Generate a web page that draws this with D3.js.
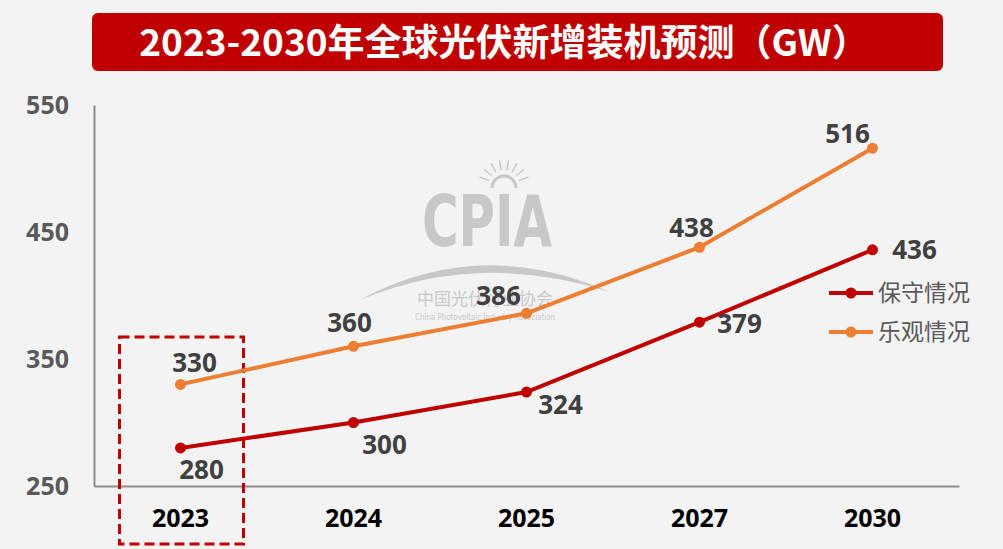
<!DOCTYPE html>
<html>
<head>
<meta charset="utf-8">
<script src="https://cdn.jsdelivr.net/npm/d3@7"></script>
<style>
  html, body { margin: 0; padding: 0; background: #f3f3f3; }
  svg { display: block; }
</style>
</head>
<body>
<div id="chart"></div>
<script>
// 2023-2030 global PV new installations forecast (GW)
const years = ['2023', '2024', '2025', '2027', '2030'];
const conservative = [280, 300, 324, 379, 436];
const optimistic = [330, 360, 386, 438, 516];
const yTicks = [250, 350, 450, 550];
const seriesNames = ['保守情况', '乐观情况'];

// label offsets from each point (styling only)
const consOffsets = [[21, 31], [31, 31], [34, 22], [40, 11], [42, 9]];
const optOffsets = [[14, -12], [-4, -14], [-28, -8], [-8, -10], [-25, -5]];

const width = 1003;
const height = 549;
const margin = { top: 105, right: 44, bottom: 63, left: 94 };
const red = '#c00000';
const orange = '#ed7d31';
const numFont = '"Open Sans", "Noto Sans", sans-serif';
const cjkFont = '"Noto Sans CJK SC", sans-serif';

const svg = d3.select('#chart')
  .append('svg')
  .attr('width', width)
  .attr('height', height);

svg.append('rect')
  .attr('width', width).attr('height', height)
  .attr('fill', '#f3f3f3');

const x = d3.scaleBand()
  .domain(years)
  .range([margin.left, width - margin.right]);

const y = d3.scaleLinear()
  .domain([250, 550])
  .range([height - margin.bottom, margin.top]);

const cx = d => x(d) + x.bandwidth() / 2;

// title bar
svg.append('rect')
  .attr('x', 92).attr('y', 13)
  .attr('width', 851).attr('height', 58)
  .attr('rx', 6)
  .attr('fill', red);

svg.append('text')
  .attr('x', 504).attr('y', 56)
  .attr('text-anchor', 'middle')
  .attr('fill', '#fff')
  .style('font-family', cjkFont)
  .style('font-weight', 700)
  .style('font-size', '37px')
  .text('2023-2030年全球光伏新增装机预测（GW）');

// watermark
const wm = svg.append('g').attr('opacity', 0.55).attr('fill', '#a6a6a6');
wm.append('text')
  .attr('x', 487).attr('y', 246)
  .attr('text-anchor', 'middle')
  .attr('textLength', 130)
  .attr('lengthAdjust', 'spacingAndGlyphs')
  .style('font-family', '"DejaVu Sans Condensed", sans-serif')
  .style('font-weight', 700)
  .style('font-size', '72px')
  .text('CPIA');
wm.append('path')
  .attr('d', 'M360,300 Q480,235 610,292 Q480,250 360,300 Z')
  .attr('fill', '#a6a6a6');
wm.append('path')
  .attr('d', 'M492,188 A12,12 0 0 1 516,188')
  .attr('fill', 'none').attr('stroke', '#a6a6a6').attr('stroke-width', 3);
d3.range(-70, 71, 20).forEach(a => {
  const r = a * Math.PI / 180;
  wm.append('line')
    .attr('x1', 504 + Math.sin(r) * 16).attr('y1', 186 - Math.cos(r) * 16)
    .attr('x2', 504 + Math.sin(r) * 26).attr('y2', 186 - Math.cos(r) * 26)
    .attr('stroke', '#a6a6a6').attr('stroke-width', 1.5);
});
wm.append('text')
  .attr('x', 485).attr('y', 305)
  .attr('text-anchor', 'middle')
  .style('font-family', cjkFont)
  .style('font-size', '17px')
  .text('中国光伏行业协会');
wm.append('text')
  .attr('x', 485).attr('y', 320)
  .attr('text-anchor', 'middle')
  .attr('textLength', 140)
  .attr('lengthAdjust', 'spacingAndGlyphs')
  .style('font-family', '"DejaVu Sans Condensed", sans-serif')
  .style('font-size', '8px')
  .text('China Photovoltaic Industry Association');

// axes
const yAxis = svg.append('g')
  .attr('transform', `translate(${margin.left},0)`)
  .call(d3.axisLeft(y).tickValues(yTicks).tickSize(0).tickPadding(25));
yAxis.select('.domain').attr('stroke', '#8c8c8c').attr('stroke-width', 2);
yAxis.selectAll('text')
  .attr('fill', '#595959')
  .style('font-family', numFont)
  .style('font-weight', 700)
  .style('font-size', '25px');

const xAxis = svg.append('g')
  .attr('transform', `translate(0,${height - margin.bottom})`)
  .call(d3.axisBottom(x).tickSize(0).tickPadding(23));
xAxis.select('.domain').attr('stroke', '#8c8c8c').attr('stroke-width', 2);
xAxis.selectAll('text')
  .attr('fill', '#000')
  .style('font-family', numFont)
  .style('font-weight', 700)
  .style('font-size', '25px');

// highlight box around 2023
svg.append('rect')
  .attr('x', cx(years[0]) - 61).attr('y', 337)
  .attr('width', 124).attr('height', 207)
  .attr('fill', 'none')
  .attr('stroke', red)
  .attr('stroke-width', 3)
  .attr('stroke-dasharray', '10,5');

const line = d3.line()
  .x((d, i) => cx(years[i]))
  .y(d => y(d));

function drawSeries(values, color, offsets) {
  const g = svg.append('g');
  g.append('path')
    .datum(values)
    .attr('d', line)
    .attr('fill', 'none')
    .attr('stroke', color)
    .attr('stroke-width', 4);
  g.selectAll('circle')
    .data(values)
    .enter()
    .append('circle')
    .attr('cx', (d, i) => cx(years[i]))
    .attr('cy', d => y(d))
    .attr('r', 5.5)
    .attr('fill', color);
  g.selectAll('text')
    .data(values)
    .enter()
    .append('text')
    .attr('x', (d, i) => cx(years[i]) + offsets[i][0])
    .attr('y', (d, i) => y(d) + offsets[i][1])
    .attr('text-anchor', 'middle')
    .attr('fill', '#404040')
    .style('font-family', numFont)
    .style('font-weight', 700)
    .style('font-size', '26px')
    .text(d => d);
}

drawSeries(optimistic, orange, optOffsets);
drawSeries(conservative, red, consOffsets);

// legend
const legend = svg.append('g');
[red, orange].forEach((color, i) => {
  const ly = 293 + i * 39;
  legend.append('line')
    .attr('x1', 829).attr('x2', 873)
    .attr('y1', ly).attr('y2', ly)
    .attr('stroke', color).attr('stroke-width', 4);
  legend.append('circle')
    .attr('cx', 851).attr('cy', ly).attr('r', 5.5)
    .attr('fill', color);
  legend.append('text')
    .attr('x', 878).attr('y', ly + 8)
    .attr('fill', '#595959')
    .style('font-family', cjkFont)
    .style('font-size', '23px')
    .text(seriesNames[i]);
});
</script>
</body>
</html>
